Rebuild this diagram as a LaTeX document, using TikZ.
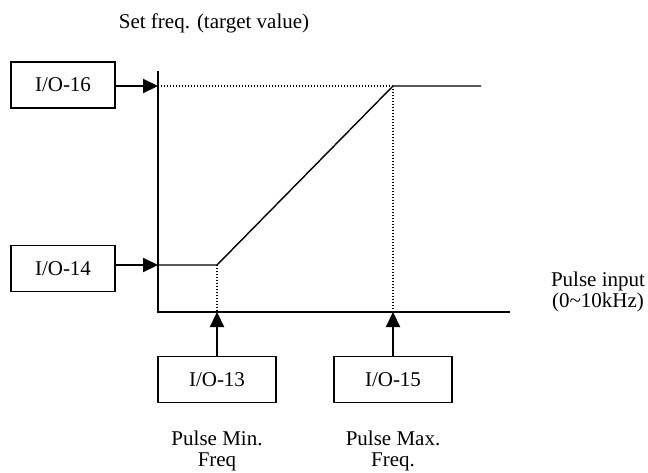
\documentclass[tikz,border=0pt]{standalone}
\usepackage{fontspec}
\setmainfont{Liberation Serif}
\usetikzlibrary{arrows.meta}
\begin{document}
\begin{tikzpicture}[x=1pt,y=-1pt,
  every node/.style={font=\fontsize{21}{21.5}\selectfont},
  iobox/.style={draw,line width=1.6pt,minimum height=46pt,inner sep=0pt},
  leftbox/.style={iobox,minimum width=104pt},
  botbox/.style={iobox,minimum width=118pt},
  axis/.style={line width=1.4pt},
  curve/.style={line width=1.4pt},
  guide/.style={line width=1.4pt,dash pattern=on 1.4pt off 1.6pt},
  feed/.style={line width=2.2pt,-{Triangle[length=15pt,width=14pt]}},
  lbl/.style={align=center,inner sep=0pt}]
\useasboundingbox (0,0) rectangle (648,472);
% axes
\coordinate (otop) at (158,71);
\coordinate (o) at (158,312);
\coordinate (xend) at (510,312);
\draw[axis] (otop) -- (o) -- (xend);
% curve points
\coordinate (y16) at (158,86);
\coordinate (y14) at (158,265);
\coordinate (p1) at (217,265);
\coordinate (p2) at (393,86);
\coordinate (p3) at (481,86);
\coordinate (x13) at (217,312);
\coordinate (x15) at (393,312);
\draw[curve] (y14) -- (p1) -- (p2) -- (p3);
\draw[guide] (y16) -- (p2);
\draw[guide] (p1) -- (x13);
\draw[guide] (p2) -- (x15);
% boxes
\node[leftbox] (b16) at (63,85) {I/O-16};
\node[leftbox] (b14) at (63,268.5) {I/O-14};
\node[botbox] (b13) at (217,379.5) {I/O-13};
\node[botbox] (b15) at (393,379.5) {I/O-15};
\draw[feed] (b16.east |- y16) -- (y16);
\draw[feed] (b14.east |- y14) -- (y14);
\draw[feed] (b13.north) -- (x13);
\draw[feed] (b15.north) -- (x15);
% labels
\node[lbl] (ty) at (214,23) {Set freq. (target value)};
\node[lbl] (tx) at (598,292) {Pulse input\\(0\char`~10kHz)};
\node[lbl] (t13) at (217,451) {Pulse Min.\\Freq};
\node[lbl] (t15) at (393,451) {Pulse Max.\\Freq.};
\end{tikzpicture}
\end{document}
